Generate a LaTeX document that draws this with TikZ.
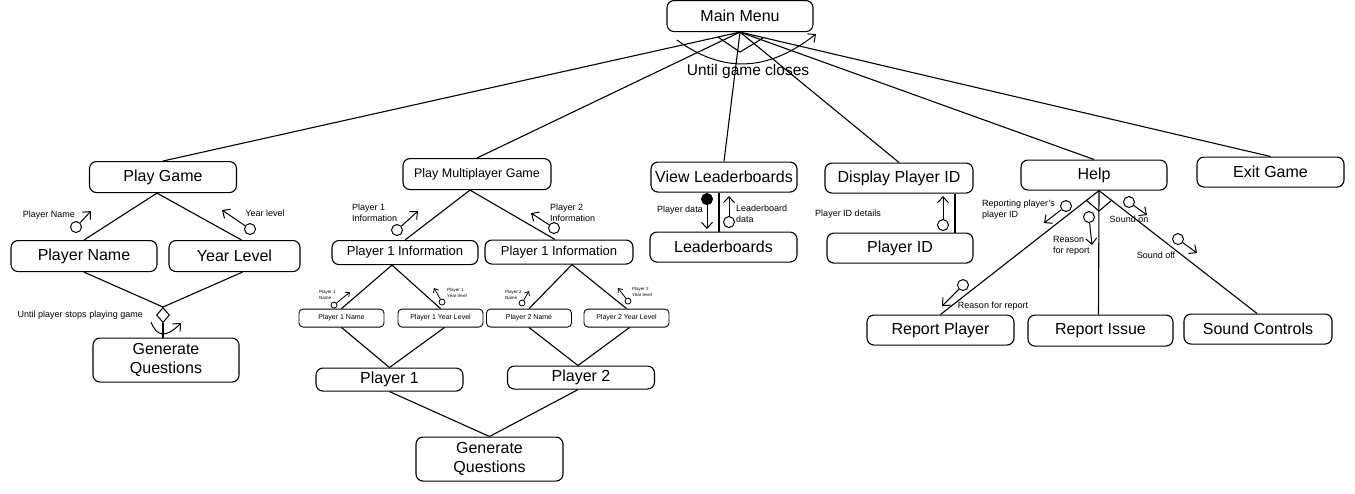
\documentclass[tikz,border=0pt]{standalone}
\usepackage{fontspec}
\setmainfont{Liberation Sans}
\usetikzlibrary{arrows.meta,shapes.geometric}

\begin{document}
\begin{tikzpicture}[
    x=1pt, y=-1pt,
    box/.style={rectangle, draw, line width=1.1pt, rounded corners=7pt, inner sep=0pt,
                minimum width=147pt, minimum height=31pt, align=center,
                font=\fontsize{16}{19}\selectfont},
    midbox/.style={box, minimum height=24pt, font=\fontsize{13}{16}\selectfont},
    smallbox/.style={box, rounded corners=4pt, line width=0.9pt, minimum width=85pt,
                minimum height=18pt, font=\fontsize{7}{8}\selectfont},
    link/.style={line width=1.1pt},
    flow/.style={-{Straight Barb[length=6pt,width=11pt]}, line width=1pt},
    tflow/.style={-{Straight Barb[length=3.5pt,width=6pt]}, line width=0.8pt},
    couple/.style={circle, draw, line width=1pt, fill=white, inner sep=0pt, minimum size=11pt},
    fcouple/.style={couple, fill=black},
    tcouple/.style={couple, line width=0.8pt, minimum size=6pt},
    lbl/.style={inner sep=0pt, align=left, font=\fontsize{9}{11}\selectfont},
    tlbl/.style={inner sep=0pt, align=left, font=\fontsize{4.5}{5.5}\selectfont}
]
    \path[fill=white] (0,0) rectangle (1355,493);

    % Main menu
    \node[box, minimum width=146pt] (mm) at (740,16) {Main Menu};

    % Play game branch
    \node[box] (pg) at (163,177) {Play Game};
    \node[box, minimum width=146pt] (pn) at (84,256) {Player Name};
    \node[box, minimum width=131pt] (yl) at (234.5,256) {Year Level};
    \node[diamond, draw, line width=1pt, inner sep=0pt, minimum width=13pt,
          minimum height=15pt] (sel) at (163,315) {};
    \node[box, minimum width=146pt, minimum height=44pt] (gq1) at (166,360) {Generate\\Questions};

    % Multiplayer branch
    \node[box, minimum width=148pt, font=\fontsize{12.5}{15}\selectfont] (pmg) at (477,174)
        {Play Multiplayer Game};
    \node[midbox, minimum width=146pt] (pi1) at (405,252.5) {Player 1 Information};
    \node[midbox, minimum width=148pt] (pi2) at (559,252) {Player 1 Information};
    \node[smallbox] (p1n) at (341.5,318) {Player 1 Name};
    \node[smallbox] (p1y) at (440.5,318) {Player 1 Year Level};
    \node[smallbox] (p2n) at (529,318) {Player 2 Name};
    \node[smallbox] (p2y) at (626.5,318) {Player 2 Year Level};
    \node[box, minimum height=23pt] (p1) at (389.5,379.5) {Player 1};
    \node[box, minimum height=23pt] (p2) at (581,377.5) {Player 2};
    \node[box, minimum height=44pt] (gq2) at (489.5,459) {Generate\\Questions};

    % Leaderboards and player ID
    \node[box, minimum width=146pt, minimum height=30pt] (vl) at (724,177) {View Leaderboards};
    \node[box, minimum height=30pt] (lb) at (723.5,247) {Leaderboards};
    \node[box, minimum width=148pt, minimum height=30pt] (dp) at (899,178) {Display Player ID};
    \node[box, minimum width=146pt, minimum height=30pt] (pid) at (900,248) {Player ID};

    % Help and exit
    \node[box, minimum width=146pt, minimum height=30pt] (hel) at (1094,175) {Help};
    \node[box, minimum height=30pt] (eg) at (1270.5,172) {Exit Game};
    \node[box, minimum height=30pt] (rp) at (940.5,330) {Report Player};
    \node[box, minimum width=145pt] (ri) at (1100.5,330.5) {Report Issue};
    \node[box, minimum width=148pt, minimum height=30pt] (sc) at (1258,329) {Sound Controls};

    % Main menu links
    \draw[link] (mm.south) -- (pg.north);
    \draw[link] (mm.south) -- (pmg.north);
    \draw[link] (mm.south) -- (vl.north);
    \draw[link] (mm.south) -- (dp.north);
    \draw[link] (mm.south) -- (hel.north);
    \draw[link] (mm.south) -- (eg.north);
    \draw[link] (718,37) -- (740,52) -- (763,38);
    \coordinate (ugs) at (677,40);
    \coordinate (uge) at (816,34);
    \draw[flow] (ugs) .. controls (725,75) and (770,70) .. (uge);
    \node[font=\fontsize{15.5}{18}\selectfont, inner sep=0pt] (ugl) at (748,71) {Until game closes};

    % Play game links
    \draw[link] ([xshift=-6pt]pg.south) -- (pn.north);
    \draw[link] ([xshift=-6pt]pg.south) -- ([xshift=7pt]yl.north);
    \draw[link] (pn.south) -- (sel.north);
    \draw[link] ([xshift=8pt]yl.south) -- (sel.north);
    \draw[link] (sel.south) -- ([xshift=-3pt]gq1.north);
    \coordinate (lps) at (151,322);
    \coordinate (lpe) at (181,323);
    \draw[flow] (lps) .. controls (157,337) and (166,338) .. (lpe);
    \node[lbl, anchor=east] (lsel) at (143,315) {Until player stops playing game};

    \node[couple] (cpn) at (76,227) {};
    \coordinate (tpn) at (91,211);
    \draw[flow] (cpn) -- (tpn);
    \node[lbl] (lpn) at (49,215) {Player Name};
    \node[couple] (cyl) at (250,229) {};
    \coordinate (tyl) at (222,210);
    \draw[flow] (cyl) -- (tyl);
    \node[lbl] (lyl) at (265,213) {Year level};

    % Multiplayer links
    \draw[link] ([xshift=-7pt]pmg.south) -- (pi1.north);
    \draw[link] ([xshift=-7pt]pmg.south) -- ([xshift=-4pt]pi2.north);
    \draw[link] ([xshift=-13pt]pi1.south) -- (p1n.north);
    \draw[link] ([xshift=-13pt]pi1.south) -- (p1y.north);
    \draw[link] ([xshift=13pt]pi2.south) -- (p2n.north);
    \draw[link] ([xshift=13pt]pi2.south) -- (p2y.north);
    \draw[link] (p1n.south) -- (p1.north);
    \draw[link] ([xshift=4pt]p1y.south) -- (p1.north);
    \draw[link] (p2n.south) -- ([xshift=-3pt]p2.north);
    \draw[link] ([xshift=3pt]p2y.south) -- ([xshift=-3pt]p2.north);
    \draw[link] (p1.south) -- (gq2.north);
    \draw[link] ([xshift=-3pt]p2.south) -- (gq2.north);

    \node[couple] (cpi1) at (397,230) {};
    \coordinate (tpi1) at (418,211);
    \draw[flow] (cpi1) -- (tpi1);
    \node[lbl, anchor=west] (lpi1) at (352,213) {Player 1\\Information};
    \node[couple] (cpi2) at (554,228) {};
    \coordinate (tpi2) at (531,213);
    \draw[flow] (cpi2) -- (tpi2);
    \node[lbl, anchor=west] (lpi2) at (550,213) {Player 2\\Information};

    \node[tcouple] (cp1n) at (334,305) {};
    \coordinate (tp1n) at (350,292);
    \draw[tflow] (cp1n) -- (tp1n);
    \node[tlbl, anchor=west] (lp1n) at (319,295) {Player 1\\Name};
    \node[tcouple] (cp1y) at (442,302) {};
    \coordinate (tp1y) at (434,288);
    \draw[tflow] (cp1y) -- (tp1y);
    \node[tlbl, anchor=west] (lp1y) at (447,293) {Player 1\\Year level};
    \node[tcouple] (cp2n) at (522,303) {};
    \coordinate (tp2n) at (529,291);
    \draw[tflow] (cp2n) -- (tp2n);
    \node[tlbl, anchor=west] (lp2n) at (505,295) {Player 2\\Name};
    \node[tcouple] (cp2y) at (628,301) {};
    \coordinate (tp2y) at (618,288);
    \draw[tflow] (cp2y) -- (tp2y);
    \node[tlbl, anchor=west] (lp2y) at (632,292) {Player 2\\Year level};

    % Leaderboard links
    \draw[link] ([xshift=-5pt]vl.south) -- ([xshift=-4.5pt]lb.north);
    \node[fcouple] (cpd) at (707,199) {};
    \coordinate (tpd) at (707,229);
    \draw[flow] (cpd) -- (tpd);
    \node[lbl] (lpd) at (680,210) {Player data};
    \node[couple] (cld) at (729,222) {};
    \coordinate (tld) at (729,196);
    \draw[flow] (cld) -- (tld);
    \node[lbl, anchor=west] (lld) at (736,214) {Leaderboard\\data};

    % Player ID links
    \draw[link] ([xshift=56pt]dp.south) -- ([xshift=55pt]pid.north);
    \node[couple] (cid) at (943,225) {};
    \coordinate (tid) at (943,196);
    \draw[flow] (cid) -- (tid);
    \node[lbl] (lid) at (848,214) {Player ID details};

    % Help links
    \draw[link] ([xshift=5pt]hel.south) -- (rp.north);
    \draw[link] ([xshift=5pt]hel.south) -- ([xshift=-2pt]ri.north);
    \draw[link] ([xshift=5pt]hel.south) -- ([xshift=-1pt]sc.north);
    \draw[link] (1086,200) -- (1099,211) -- (1112,200);

    \node[couple] (crp) at (1066,206) {};
    \coordinate (trp) at (1044,223);
    \draw[flow] (crp) -- (trp);
    \node[lbl, anchor=west] (lrp) at (982,210) {Reporting player's\\player ID};
    \node[couple] (crr) at (1089,217) {};
    \coordinate (trr) at (1092,245);
    \draw[flow] (crr) -- (trr);
    \node[lbl, anchor=west] (lrr) at (1053,246) {Reason\\for report};
    \node[couple] (cson) at (1129,202) {};
    \coordinate (tson) at (1147,215);
    \draw[flow] (cson) -- (tson);
    \node[lbl] (lson) at (1129,219) {Sound on};
    \node[couple] (csoff) at (1178,239) {};
    \coordinate (tsoff) at (1197,253);
    \draw[flow] (csoff) -- (tsoff);
    \node[lbl] (lsoff) at (1156,255) {Sound off};
    \node[couple] (crr2) at (963,285) {};
    \coordinate (trr2) at (942,306);
    \draw[flow] (crr2) -- (trr2);
    \node[lbl] (lrr2) at (993,306) {Reason for report};

\end{tikzpicture}
\end{document}
